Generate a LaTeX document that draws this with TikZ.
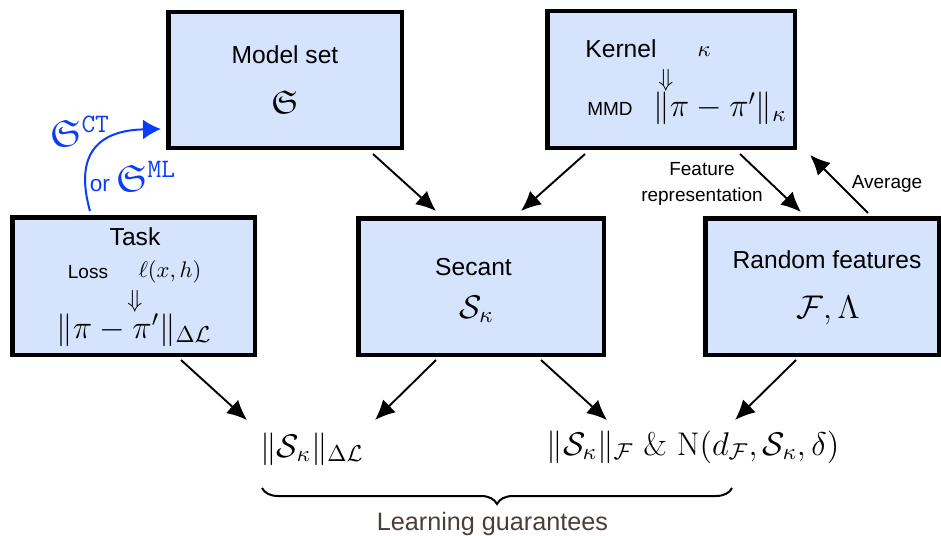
\RequirePackage{fix-cm}
\documentclass[tikz,border=0pt]{standalone}
\usepackage{amssymb}
\usepackage{fontspec}
\newfontfamily\hv{Liberation Sans}
\usetikzlibrary{arrows.meta,calc,decorations.pathreplacing}
\definecolor{boxfill}{RGB}{213,227,252}
\definecolor{myblue}{RGB}{10,60,250}
\definecolor{lgcol}{RGB}{75,62,56}
\newcommand\szA{\fontsize{12.3}{14.8}\selectfont}
\newcommand\szM{\fontsize{16.4}{19.7}\selectfont}
\newcommand\szS{\fontsize{9.5}{12}\selectfont}
\newcommand\szX{\fontsize{11.3}{13.6}\selectfont}
\newcommand\szB{\fontsize{19}{23}\selectfont}
\tikzset{
  box/.style={draw=black, line width=2.25pt, fill=boxfill, inner sep=0pt},
  txt/.style={inner sep=0pt, anchor=base},
  sans/.style={txt, font=\hv\szA},
  small/.style={txt, font=\hv\szS},
  mth/.style={txt, font=\szM},
  mths/.style={txt, font=\szX},
  arr/.style={-{Latex[length=10pt,width=9pt]}, line width=0.95pt},
  bluearr/.style={-{Latex[length=9pt,width=10pt]}, line width=1pt, draw=myblue}
}
\begin{document}
\begin{tikzpicture}[x=0.5pt,y=-0.5pt]
\useasboundingbox (0,0) rectangle (941,535);
% boxes
\node[box,minimum width=116.75pt,minimum height=67.75pt] (model) at (285,80) {};
\node[box,minimum width=123.75pt,minimum height=68.25pt] (kernel) at (671,79.5) {};
\node[box,minimum width=121.25pt,minimum height=68.75pt] (task) at (133.5,286) {};
\node[box,minimum width=122.75pt,minimum height=68.25pt] (secant) at (481,286.5) {};
\node[box,minimum width=116.75pt,minimum height=68.25pt] (random) at (822,286.5) {};
% model set
\node[sans] (modelT) at (285,64) {Model set};
\node[mth] (modelM) at (285,113) {$\mathfrak{S}$};
% kernel
\node[sans] (kernelT) at (621,58) {Kernel};
\node[mths] (kappa) at (704,57) {$\kappa$};
\node[inner sep=0pt, font=\szA] (kdarr) at (666,80) {$\Downarrow$};
\node[small] (mmd) at (610,115) {MMD};
\node[mth] (kernM) at (720,117) {$\|\pi-\pi'\|_\kappa$};
% task
\node[sans] (taskT) at (135,245) {Task};
\node[small] (loss) at (88,278) {Loss};
\node[mths] (ell) at (170,277) {$\ell(x,h)$};
\node[inner sep=0pt, font=\szA] (tdarr) at (135,301) {$\Downarrow$};
\node[mth] (taskM) at (134,338) {$\|\pi-\pi'\|_{\Delta\mathcal{L}}$};
% secant
\node[sans] (secT) at (473.5,275) {Secant};
\node[mth] (secM) at (476.5,318) {$\mathcal{S}_\kappa$};
% random features
\node[sans] (rndT) at (827,268) {Random features};
\node[mth] (rndM) at (828,318) {$\mathcal{F},\Lambda$};
% edge labels
\node[inner sep=0pt, font=\hv\szS, align=center] (featlbl) at (702,184) {Feature\\[1pt]representation};
\node[small] (avglbl) at (887,188) {Average};
% bottom results
\node[mth] (lb) at (312,457) {$\|\mathcal{S}_\kappa\|_{\Delta\mathcal{L}}$};
\node[mth] (rb) at (693,455) {$\|\mathcal{S}_\kappa\|_{\mathcal{F}}\ \&\ \mathrm{N}(d_{\mathcal{F}},\mathcal{S}_\kappa,\delta)$};
% brace
\coordinate (bl) at (262,488);
\coordinate (br) at (732,488);
\draw[decorate, decoration={brace, amplitude=8pt, mirror}, line width=1pt] (bl) -- (br);
\node[txt, font=\hv\fontsize{12.6}{15}\selectfont, text=lgcol] (lg) at (492.5,530) {Learning guarantees};
% blue labels
\node[txt, text=myblue, font=\szB] (ctlbl) at (80,146) {$\mathfrak{S}^{\mathtt{CT}}$};
\node[txt, text=myblue] (mllbl) at (133,191) {\hv\szX or \szB$\mathfrak{S}^{\mathtt{ML}}$};
% arrows
\draw[arr] ($(model.south west)+(207,4)$) -- ($(secant.north west)+(80,-5)$);
\draw[arr] ($(kernel.south west)+(40,4)$) -- ($(secant.north west)+(165,-5)$);
\draw[arr] ($(kernel.south west)+(195,4)$) -- ($(random.north west)+(98,-4)$);
\draw[arr] ($(random.north west)+(165,-3)$) -- ($(kernel.south east)+(13,5)$);
\draw[arr] ($(task.south west)+(171,3)$) -- ($(lb.base)+(-65,-37)$);
\draw[arr] ($(secant.south west)+(80,3)$) -- ($(lb.base)+(63,-37)$);
\draw[arr] ($(secant.south west)+(185,3)$) -- ($(rb.base)+(-86,-35)$);
\draw[arr] ($(random.south west)+(93,3)$) -- ($(rb.base)+(42,-35)$);
\draw[bluearr] ($(task.north west)+(80,-4)$) .. controls (70,140) and (115,130) .. ($(model.south west)+(-5,-21)$);
\end{tikzpicture}
\end{document}
